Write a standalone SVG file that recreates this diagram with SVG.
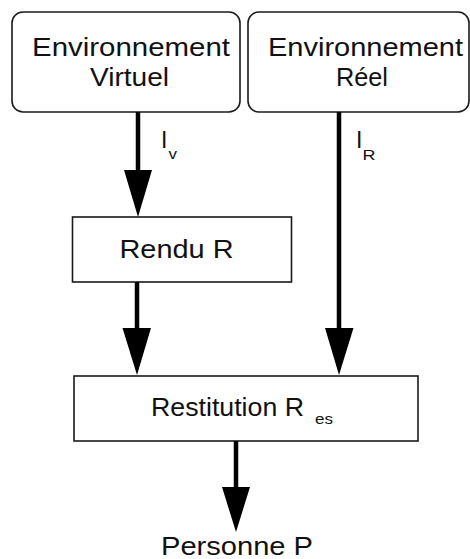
<svg xmlns="http://www.w3.org/2000/svg" width="470" height="559" viewBox="0 0 470 559">
<style>
.box{fill:#fff;stroke:#1a1a1a;stroke-width:1.6}
.t{font-family:"Liberation Sans",Arial,sans-serif;font-size:26px;fill:#111}
.s{font-family:"Liberation Sans",Arial,sans-serif;font-size:14px;fill:#111}
.ln{stroke:#000;stroke-width:4.5;fill:none}
.hd{fill:#000;stroke:none}
</style>
<rect width="470" height="559" fill="#fff"/>
<g id="env-virtuel">
<rect class="box" x="12" y="12" width="228" height="100" rx="11" ry="11"/>
<text class="t" x="32" y="56" textLength="198" lengthAdjust="spacingAndGlyphs">Environnement</text>
<text class="t" x="90" y="86" textLength="79" lengthAdjust="spacingAndGlyphs">Virtuel</text>
</g>
<g id="env-reel">
<rect class="box" x="248" y="12" width="221" height="100" rx="11" ry="11"/>
<text class="t" x="268" y="56" textLength="195" lengthAdjust="spacingAndGlyphs">Environnement</text>
<text class="t" x="336" y="86" textLength="52" lengthAdjust="spacingAndGlyphs">Réel</text>
</g>
<g id="rendu">
<rect class="box" x="72.5" y="217" width="219" height="65"/>
<text class="t" x="119.5" y="258" textLength="114" lengthAdjust="spacingAndGlyphs">Rendu R</text>
</g>
<g id="restitution">
<rect class="box" x="74" y="376" width="344" height="65"/>
<text class="t" x="151" y="416" textLength="153" lengthAdjust="spacingAndGlyphs">Restitution R</text>
<text class="s" x="315" y="424" style="font-size:15px" textLength="18" lengthAdjust="spacingAndGlyphs">es</text>
</g>
<g id="personne">
<text class="t" x="161" y="555" textLength="152" lengthAdjust="spacingAndGlyphs">Personne P</text>
</g>
<g id="connectors">
<line class="ln" x1="138" y1="112" x2="138" y2="172"/>
<polygon class="hd" points="124,170 152,170 138,217"/>
<line class="ln" x1="137" y1="282" x2="137" y2="330"/>
<polygon class="hd" points="122.5,328 151,328 137,375"/>
<line class="ln" x1="339" y1="112" x2="339" y2="330"/>
<polygon class="hd" points="325,328 353.5,328 339,375"/>
<line class="ln" x1="236" y1="441" x2="236" y2="489"/>
<polygon class="hd" points="222,487 250,487 236,532"/>
<text class="t" x="161" y="148" style="font-size:23px">I</text>
<text class="s" x="168.5" y="158.5" style="font-size:14px" textLength="8.5" lengthAdjust="spacingAndGlyphs">v</text>
<text class="t" x="356" y="148" style="font-size:23px">I</text>
<text class="s" x="362.5" y="160" style="font-size:14px" textLength="13" lengthAdjust="spacingAndGlyphs">R</text>
</g>
</svg>
